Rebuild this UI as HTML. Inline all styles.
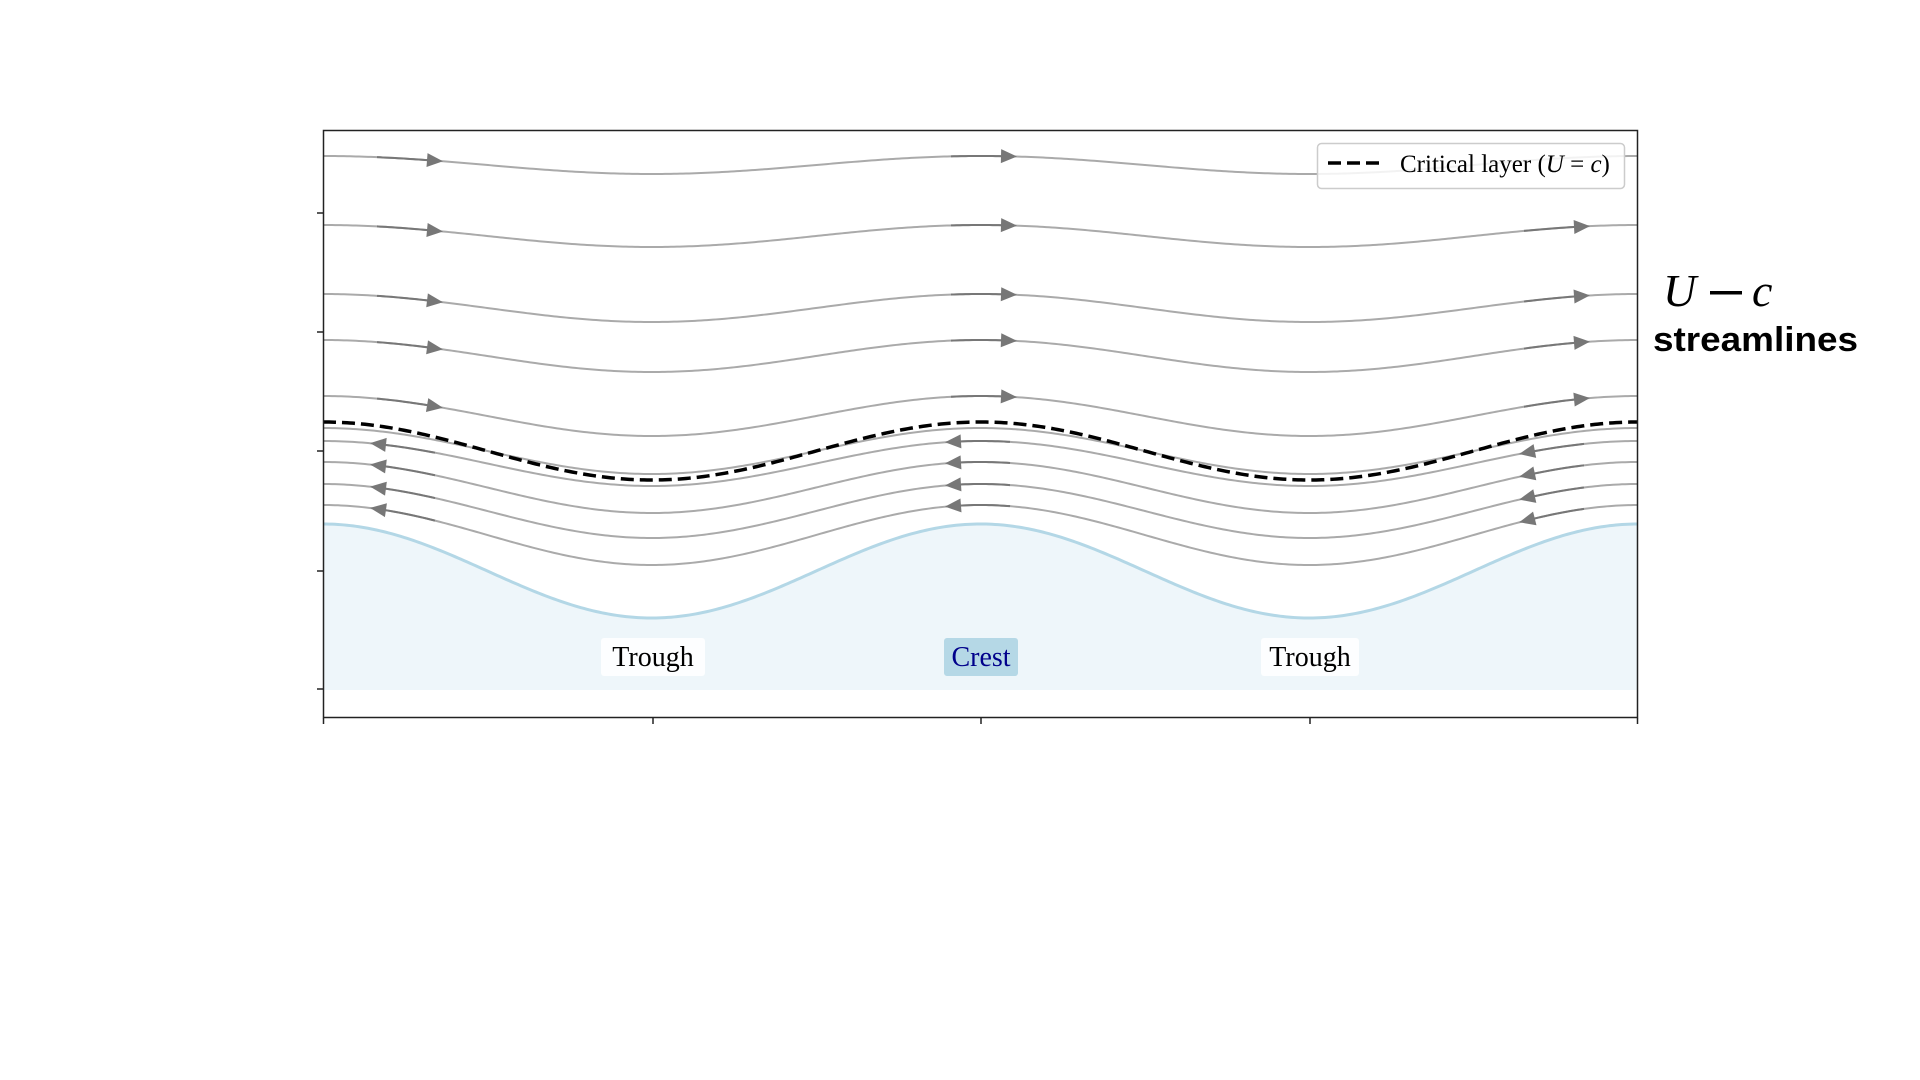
<!DOCTYPE html>
<html><head><meta charset="utf-8"><style>
html,body{margin:0;padding:0;background:#fff;width:1920px;height:1080px;overflow:hidden}
svg{position:absolute;left:0;top:0}
</style></head><body>
<svg id="s" width="1920" height="1080" xmlns="http://www.w3.org/2000/svg">
<rect x="323" y="130" width="1315" height="588" fill="#fff"/>
<g id="g"></g>
<rect x="601" y="638" width="104" height="38" rx="3" fill="#fff" opacity="0.85"/>
<text x="653" y="666" font-family="Liberation Serif, serif" font-size="28" text-anchor="middle" fill="#000">Trough</text>
<rect x="944" y="638" width="74" height="38" rx="3" fill="#b5d8e6"/>
<text x="981" y="666" font-family="Liberation Serif, serif" font-size="28" text-anchor="middle" fill="#00008b">Crest</text>
<rect x="1261" y="638" width="98" height="38" rx="3" fill="#fff" opacity="0.85"/>
<text x="1310" y="666" font-family="Liberation Serif, serif" font-size="28" text-anchor="middle" fill="#000">Trough</text>
<rect x="1317.5" y="143.5" width="307" height="45" rx="4" fill="#fff" fill-opacity="0.85" stroke="#ccc" stroke-width="1.5"/>
<line x1="1328" y1="163" x2="1381" y2="163" stroke="#000" stroke-width="3.5" stroke-dasharray="13,6"/>
<text x="1400" y="172" font-family="Liberation Serif, serif" font-size="25" fill="#000">Critical layer (<tspan font-style="italic">U</tspan> = <tspan font-style="italic">c</tspan>)</text>
<rect x="323.5" y="130.5" width="1314" height="587" fill="none" stroke="#222" stroke-width="1.5"/>
<g stroke="#222" stroke-width="1.5">
<line x1="323.5" y1="718" x2="323.5" y2="724"/><line x1="653" y1="718" x2="653" y2="724"/>
<line x1="981" y1="718" x2="981" y2="724"/><line x1="1310" y1="718" x2="1310" y2="724"/>
<line x1="1637.5" y1="718" x2="1637.5" y2="724"/>
<line x1="317" y1="213" x2="323" y2="213"/><line x1="317" y1="332" x2="323" y2="332"/>
<line x1="317" y1="451" x2="323" y2="451"/><line x1="317" y1="571" x2="323" y2="571"/>
<line x1="317" y1="689" x2="323" y2="689"/>
</g>
<text x="1663" y="306" font-family="Liberation Serif, serif" font-style="italic" font-size="46" fill="#000">U</text>
<rect x="1710" y="291" width="32" height="3.5" fill="#000"/>
<text x="1752" y="306" font-family="Liberation Serif, serif" font-style="italic" font-size="46" fill="#000">c</text>
<text x="1653" y="351" font-family="Liberation Sans, sans-serif" font-weight="bold" font-size="34" fill="#000" textLength="205" lengthAdjust="spacingAndGlyphs">streamlines</text>
</svg>
<script>
(function(){
var g=document.getElementById('g'),NS='http://www.w3.org/2000/svg';
var X0=323,X1=1638,P=657.5;
function el(t,a){var e=document.createElementNS(NS,t);for(var k in a)e.setAttribute(k,a[k]);g.appendChild(e);return e;}
function f(c,t){var m=(c+t)/2,a=(t-c)/2;return function(x){return m-a*Math.cos(2*Math.PI*(x-X0)/P);};}
function path(fn,a,b){var d='';for(var x=a;x<=b+0.01;x+=3){d+=(d?'L':'M')+x.toFixed(1)+','+fn(x).toFixed(2);}return d;}
var w=f(524,618);
el('path',{d:path(w,X0,X1)+'L'+X1+',690L'+X0+',690Z',fill:'#eef6fa'});
el('path',{d:path(w,X0,X1),fill:'none',stroke:'#b3d7e6','stroke-width':3});
function arrow(fn,x,dir){
  var dy=(fn(x+1)-fn(x-1))/2,ang=Math.atan2(dy,1);if(dir<0)ang+=Math.PI;
  var xs=dir>0?x-58:x+58;
  el('path',{d:path(fn,Math.min(x,xs),Math.max(x,xs)),fill:'none',stroke:'#777','stroke-width':2});
  var L=16,W=7,c=Math.cos(ang),s=Math.sin(ang);
  var tx=x+c*L/2,ty=fn(x)+s*L/2,bx=x-c*L/2,by=fn(x)-s*L/2;
  el('polygon',{points:tx+','+ty+' '+(bx-s*W)+','+(by+c*W)+' '+(bx+s*W)+','+(by-c*W),fill:'#777'});
}
var up=[[156,174],[225,247],[294,322],[340,372],[396,436]];
up.forEach(function(p,i){var fn=f(p[0],p[1]);
  el('path',{d:path(fn,X0,X1),fill:'none',stroke:'#aaa','stroke-width':2});
  arrow(fn,435,1);arrow(fn,1009,1);if(i>0)arrow(fn,1582,1);});
var lo=[[428,474],[441,486],[462,513],[484,538],[505,565]];
lo.forEach(function(p,i){var fn=f(p[0],p[1]);
  el('path',{d:path(fn,X0,X1),fill:'none',stroke:'#aaa','stroke-width':2});
  if(i>0){arrow(fn,378,-1);arrow(fn,953,-1);arrow(fn,1527,-1);}});
var dfn=f(422,480);
el('path',{d:path(dfn,X0,X1),fill:'none',stroke:'#000','stroke-width':3.5,'stroke-dasharray':'13,6'});
})();
</script>
</body></html>
